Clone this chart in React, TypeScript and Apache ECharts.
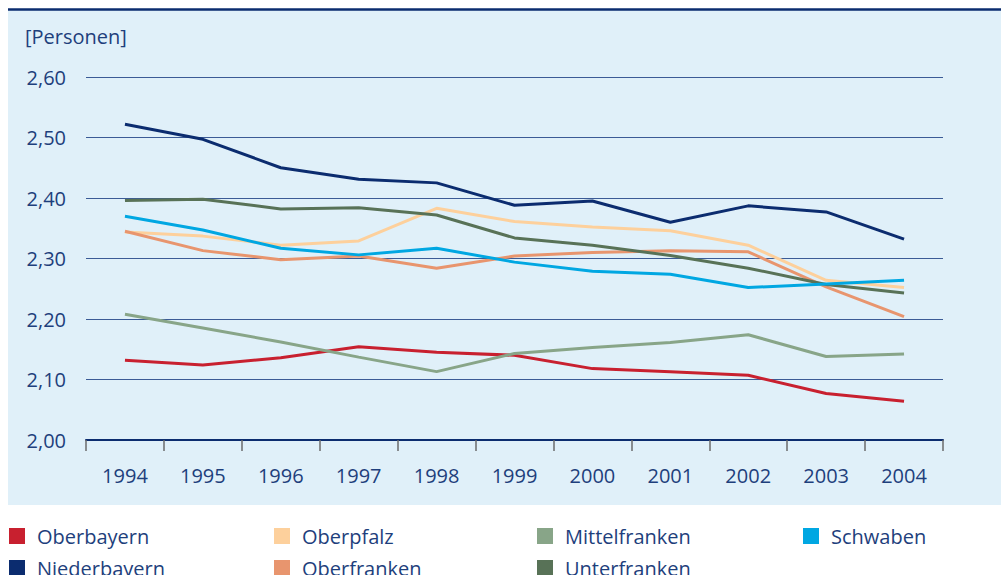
import React, { useEffect, useRef } from "react";
import * as echarts from "echarts";

const years = ["1994", "1995", "1996", "1997", "1998", "1999", "2000", "2001", "2002", "2003", "2004"];

const oberbayern = [2.132, 2.124, 2.136, 2.154, 2.145, 2.14, 2.118, 2.113, 2.107, 2.077, 2.064];
const niederbayern = [2.522, 2.497, 2.45, 2.431, 2.425, 2.388, 2.395, 2.36, 2.387, 2.377, 2.332];
const oberpfalz = [2.344, 2.337, 2.322, 2.329, 2.383, 2.361, 2.352, 2.346, 2.322, 2.264, 2.252];
const oberfranken = [2.345, 2.313, 2.298, 2.304, 2.284, 2.304, 2.31, 2.313, 2.311, 2.253, 2.204];
const mittelfranken = [2.208, 2.185, 2.162, 2.137, 2.113, 2.143, 2.153, 2.161, 2.174, 2.138, 2.142];
const unterfranken = [2.396, 2.398, 2.382, 2.384, 2.372, 2.334, 2.322, 2.305, 2.284, 2.257, 2.243];
const schwaben = [2.37, 2.347, 2.317, 2.306, 2.317, 2.294, 2.279, 2.274, 2.252, 2.258, 2.264];

const seriesDefs = [
  { name: "Oberbayern", data: oberbayern, color: "#c8202f" },
  { name: "Niederbayern", data: niederbayern, color: "#0b2c6f" },
  { name: "Oberpfalz", data: oberpfalz, color: "#fdd09c" },
  { name: "Oberfranken", data: oberfranken, color: "#e8956e" },
  { name: "Mittelfranken", data: mittelfranken, color: "#88a588" },
  { name: "Unterfranken", data: unterfranken, color: "#587257" },
  { name: "Schwaben", data: schwaben, color: "#00a7e2" },
];

const legendColumns = [
  { left: 9, names: ["Oberbayern", "Niederbayern"] },
  { left: 274, names: ["Oberpfalz", "Oberfranken"] },
  { left: 537, names: ["Mittelfranken", "Unterfranken"] },
  { left: 803, names: ["Schwaben"] },
];

const TEXT = "#1e3f7c";
const FONT = "Open Sans";

export default function App() {
  const ref = useRef<HTMLDivElement>(null);
  useEffect(() => {
    if (!ref.current) return;
    const chart = echarts.init(ref.current, null, { renderer: "svg" });
    chart.setOption({
      animation: false,
      backgroundColor: "#ffffff",
      textStyle: { fontFamily: FONT },
      title: {
        text: "[Personen]",
        left: 25,
        top: 26,
        padding: 0,
        textStyle: { color: TEXT, fontSize: 20, fontWeight: "normal", fontFamily: FONT },
      },
      graphic: [
        {
          type: "rect",
          z: -10,
          silent: true,
          shape: { x: 8, y: 10, width: 993, height: 495 },
          style: { fill: "#e0f0f9" },
        },
        {
          type: "line",
          z: -5,
          silent: true,
          shape: { x1: 8, y1: 9.5, x2: 1001, y2: 9.5 },
          style: { stroke: "#0b2c6f", lineWidth: 2.5 },
        },
      ],
      legend: legendColumns.map((c) => ({
        orient: "vertical",
        left: c.left,
        top: 526,
        height: 60,
        padding: 0,
        itemWidth: 16,
        itemHeight: 16,
        itemGap: 12,
        icon: "rect",
        data: c.names,
        textStyle: {
          color: TEXT,
          fontSize: 20,
          lineHeight: 18,
          fontFamily: FONT,
          padding: [0, 0, 0, 7],
        },
      })),
      grid: { left: 86, right: 58, top: 77, bottom: 135, containLabel: false },
      xAxis: {
        type: "category",
        data: years,
        boundaryGap: true,
        axisLine: { lineStyle: { color: "#0b2c6f", width: 2 } },
        axisTick: { show: true, length: 11, lineStyle: { color: "#6b6b6b", width: 1.5 } },
        axisLabel: { color: TEXT, fontSize: 20, margin: 25, fontFamily: FONT },
        splitLine: { show: false },
      },
      yAxis: {
        type: "value",
        min: 2,
        max: 2.6,
        interval: 0.1,
        axisLine: { show: false },
        axisTick: { show: false },
        axisLabel: {
          color: TEXT,
          fontSize: 20,
          margin: 20,
          fontFamily: FONT,
          formatter: (v: number) => v.toFixed(2).replace(".", ","),
        },
        splitLine: { show: true, lineStyle: { color: "#3b5b96", width: 1.2 } },
      },
      series: seriesDefs.map((s) => ({
        name: s.name,
        type: "line",
        data: s.data,
        symbol: "none",
        smooth: false,
        lineStyle: { color: s.color, width: 3 },
        itemStyle: { color: s.color },
      })),
    });
    return () => chart.dispose();
  }, []);
  return (
    <div
      ref={ref}
      style={{ position: "fixed", left: 0, top: 0, width: 1001, height: 575 }}
    />
  );
}
